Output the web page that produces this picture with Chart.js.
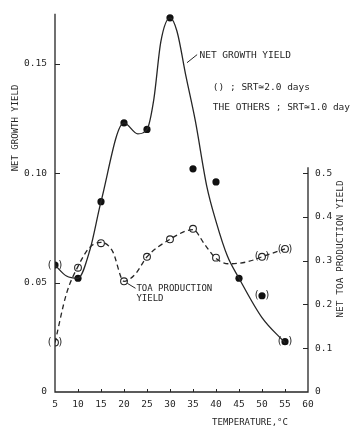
<!DOCTYPE html>
<html>
<head>
<meta charset="utf-8">
<script src="https://cdn.jsdelivr.net/npm/chart.js@4.4.0/dist/chart.umd.min.js"></script>
<style>
  html, body { margin: 0; padding: 0; background: #fff; }
  canvas { display: block; }
</style>
</head>
<body>
<canvas id="chart" width="359" height="434"></canvas>
<script>
// === DATOS ===
const temps = [5, 10, 15, 20, 25, 30, 35, 40, 45, 50, 55];
const growthYield = [0.058, 0.052, 0.087, 0.123, 0.120, 0.171, 0.102, 0.096, 0.052, 0.044, 0.023];
const growthSrt2 = [true, false, false, false, false, false, false, false, false, true, true];

const toaTemps = [5, 10, 15, 20, 25, 30, 35, 40, 50, 55];
const toaYield = [0.113, 0.284, 0.340, 0.253, 0.309, 0.349, 0.373, 0.307, 0.309, 0.327];
const toaSrt2 = [true, false, false, false, false, false, false, false, true, true];

// curvas dibujadas a mano en el original
const growthCurveX = [5, 7.5, 10, 12.6, 15, 20, 23, 25, 26.5, 28, 30, 31.5, 33.5, 35.5, 38, 40, 42.5, 45, 50, 55];
const growthCurveY = [0.058, 0.053, 0.052, 0.065, 0.087, 0.123, 0.118, 0.120, 0.134, 0.160, 0.171, 0.165, 0.144, 0.124, 0.094, 0.078, 0.062, 0.052, 0.034, 0.0225];
const toaCurveX = [5, 7.5, 10, 12.5, 15, 17.5, 20, 22.5, 25, 30, 35, 37.5, 40, 43, 47, 50, 55];
const toaCurveY = [0.113, 0.225, 0.287, 0.330, 0.342, 0.322, 0.253, 0.270, 0.309, 0.349, 0.371, 0.338, 0.305, 0.293, 0.298, 0.309, 0.327];

const xTicks = [5, 10, 15, 20, 25, 30, 35, 40, 45, 50, 55, 60];
const leftTicks = [0, 0.05, 0.10, 0.15];
const leftTickLabels = ['0', '0.05', '0.10', '0.15'];
const rightTicks = [0, 0.1, 0.2, 0.3, 0.4, 0.5];
const rightTickLabels = ['0', '0.1', '0.2', '0.3', '0.4', '0.5'];

const xTitle = 'TEMPERATURE,°C';
const leftTitle = 'NET GROWTH YIELD';
const rightTitle = 'NET TOA PRODUCTION YIELD';
const growthLabel = 'NET GROWTH YIELD';
const toaLabel = ['TOA PRODUCTION', 'YIELD'];
const notes = ['() ; SRT\u22432.0 days', 'THE OTHERS ; SRT\u22431.0 day'];

const FONT = '"DejaVu Sans Mono", "Liberation Mono", monospace';
const INK = '#262626';

const pts = (xs, ys) => xs.map((x, i) => ({ x, y: ys[i] }));

const decor = {
  id: 'decor',
  afterDraw(chart) {
    const { ctx, chartArea: a, scales } = chart;
    const sx = scales.x, sy = scales.y, sr = scales.y1;
    ctx.save();
    ctx.strokeStyle = INK;
    ctx.fillStyle = INK;
    ctx.lineWidth = 1.3;

    // ejes
    const rx = sx.getPixelForValue(60);
    const rTop = sr.getPixelForValue(0.5) - 6;
    ctx.beginPath();
    ctx.moveTo(a.left, a.top);
    ctx.lineTo(a.left, a.bottom);
    ctx.lineTo(rx, a.bottom);
    ctx.lineTo(rx, rTop);
    ctx.stroke();

    ctx.lineWidth = 1;
    ctx.beginPath();
    leftTicks.slice(1).forEach(v => {
      const y = Math.round(sy.getPixelForValue(v)) + 0.5;
      ctx.moveTo(a.left, y); ctx.lineTo(a.left + 5, y);
    });
    rightTicks.slice(1).forEach(v => {
      const y = Math.round(sr.getPixelForValue(v)) + 0.5;
      ctx.moveTo(rx, y); ctx.lineTo(rx - 5, y);
    });
    xTicks.slice(1, -1).forEach(v => {
      const x = Math.round(sx.getPixelForValue(v)) + 0.5;
      ctx.moveTo(x, a.bottom); ctx.lineTo(x, a.bottom - 3);
    });
    ctx.stroke();

    // titulos
    ctx.font = '9px ' + FONT;
    ctx.textAlign = 'center';
    ctx.textBaseline = 'middle';
    ctx.fillText(xTitle, 250, 423);
    ctx.save();
    ctx.translate(16, 128);
    ctx.rotate(-Math.PI / 2);
    ctx.fillText(leftTitle, 0, 0);
    ctx.restore();
    ctx.save();
    ctx.font = '9.5px ' + FONT;
    ctx.translate(341, 249);
    ctx.rotate(-Math.PI / 2);
    ctx.fillText(rightTitle, 0, 0);
    ctx.restore();

    // parentesis SRT 2.0
    ctx.font = '10px ' + FONT;
    const parens = (meta, flags) => {
      meta.data.forEach((el, i) => {
        if (!flags[i]) return;
        ctx.fillText('(', el.x - 5.5, el.y);
        ctx.fillText(')', el.x + 5.5, el.y);
      });
    };
    parens(chart.getDatasetMeta(2), growthSrt2);
    parens(chart.getDatasetMeta(3), toaSrt2);

    // anotaciones
    ctx.textAlign = 'left';
    ctx.font = '9.5px ' + FONT;
    ctx.beginPath();
    ctx.moveTo(sx.getPixelForValue(33.7), sy.getPixelForValue(0.1505));
    ctx.lineTo(sx.getPixelForValue(35.9), sy.getPixelForValue(0.1542));
    ctx.moveTo(sx.getPixelForValue(20.7), sy.getPixelForValue(0.0497));
    ctx.lineTo(sx.getPixelForValue(22.5), sy.getPixelForValue(0.0474));
    ctx.stroke();
    ctx.fillText(growthLabel, sx.getPixelForValue(36.4), sy.getPixelForValue(0.1538));
    ctx.fillText(notes[0], sx.getPixelForValue(39.3), sy.getPixelForValue(0.1391));
    ctx.fillText(notes[1], sx.getPixelForValue(39.3), sy.getPixelForValue(0.1302));
    ctx.font = '9px ' + FONT;
    ctx.fillText(toaLabel[0], sx.getPixelForValue(22.7), sy.getPixelForValue(0.0471));
    ctx.fillText(toaLabel[1], sx.getPixelForValue(22.7), sy.getPixelForValue(0.0427));
    ctx.restore();
  }
};

const chart = new Chart(document.getElementById('chart'), {
  type: 'line',
  data: {
    datasets: [
      {
        data: pts(growthCurveX, growthCurveY),
        yAxisID: 'y',
        borderColor: INK,
        borderWidth: 1.3,
        pointRadius: 0,
        cubicInterpolationMode: 'monotone',
        fill: false
      },
      {
        data: pts(toaCurveX, toaCurveY),
        yAxisID: 'y1',
        borderColor: INK,
        borderWidth: 1.3,
        borderDash: [5, 3.5],
        pointRadius: 0,
        cubicInterpolationMode: 'monotone',
        fill: false
      },
      {
        data: pts(temps, growthYield),
        yAxisID: 'y',
        showLine: false,
        pointRadius: 3.6,
        pointBackgroundColor: '#111',
        pointBorderColor: '#111',
        pointBorderWidth: 0
      },
      {
        data: pts(toaTemps, toaYield),
        yAxisID: 'y1',
        showLine: false,
        pointRadius: 3.4,
        pointBackgroundColor: '#fff',
        pointBorderColor: INK,
        pointBorderWidth: 1.1
      }
    ]
  },
  options: {
    responsive: false,
    animation: false,
    layout: { padding: { top: 3, left: 0, right: 0, bottom: 0 } },
    plugins: { legend: { display: false }, tooltip: { enabled: false } },
    scales: {
      x: {
        type: 'linear',
        min: 5,
        max: 60,
        grid: { display: false, drawTicks: false },
        border: { display: false },
        afterBuildTicks: s => { s.ticks = xTicks.map(value => ({ value })); },
        afterFit: s => { s.height = 42; },
        ticks: {
          padding: 7,
          color: INK,
          font: { family: FONT, size: 9.5 },
          maxRotation: 0,
          callback: v => String(v)
        }
      },
      y: {
        position: 'left',
        min: 0,
        max: 0.1729,
        grid: { display: false, drawTicks: false },
        border: { display: false },
        afterBuildTicks: s => { s.ticks = leftTicks.map(value => ({ value })); },
        afterFit: s => { s.width = 55; },
        ticks: {
          padding: 8,
          color: INK,
          font: { family: FONT, size: 9.5 },
          callback: v => leftTickLabels[leftTicks.indexOf(v)]
        }
      },
      y1: {
        position: 'right',
        min: 0,
        max: 0.8645,
        grid: { display: false, drawTicks: false },
        border: { display: false },
        afterBuildTicks: s => { s.ticks = rightTicks.map(value => ({ value })); },
        afterFit: s => { s.width = 51; },
        ticks: {
          padding: 7,
          color: INK,
          font: { family: FONT, size: 9.5 },
          callback: v => rightTickLabels[rightTicks.indexOf(v)]
        }
      }
    }
  },
  plugins: [decor]
});
</script>
</body>
</html>
